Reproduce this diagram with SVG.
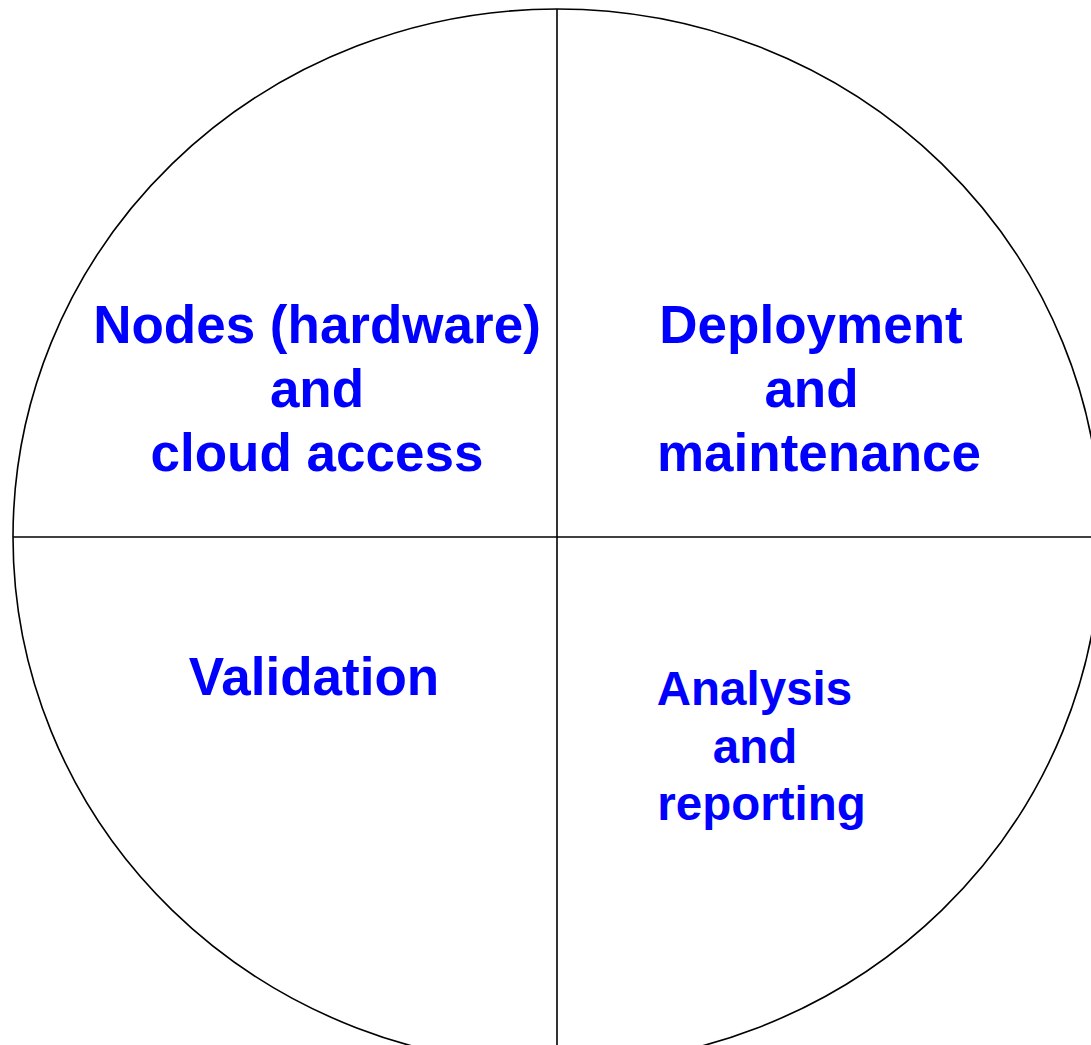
<svg xmlns="http://www.w3.org/2000/svg" width="1091" height="1045" viewBox="0 0 1091 1045">
<style>
.ln{stroke:#000;stroke-width:1.6;fill:none}
.big{font-family:"Liberation Sans",Arial,sans-serif;font-weight:bold;font-size:53px;fill:#0000FF;text-anchor:middle}
.sm{font-family:"Liberation Sans",Arial,sans-serif;font-weight:bold;font-size:47.5px;fill:#0000FF;text-anchor:middle}
</style>
<rect width="1091" height="1045" fill="#fff"/>
<g id="circle"><ellipse class="ln" cx="557" cy="537" rx="544" ry="528"/></g>
<g id="connectors">
<line class="ln" x1="13" y1="537" x2="1091" y2="537"/>
<line class="ln" x1="557" y1="9" x2="557" y2="1045"/>
</g>
<g id="nodes-hardware">
<text class="big" x="317" y="343">Nodes (hardware)</text>
<text class="big" x="317" y="407">and</text>
<text class="big" x="317" y="471">cloud access</text>
</g>
<g id="deployment">
<text class="big" x="811" y="343">Deployment</text>
<text class="big" x="811.5" y="407">and</text>
<text class="big" x="819" y="471">maintenance</text>
</g>
<g id="validation">
<text class="big" x="314" y="695">Validation</text>
</g>
<g id="analysis">
<text class="sm" x="754.5" y="705">Analysis</text>
<text class="sm" x="755" y="763">and</text>
<text class="sm" x="761.5" y="820">reporting</text>
</g>
</svg>
